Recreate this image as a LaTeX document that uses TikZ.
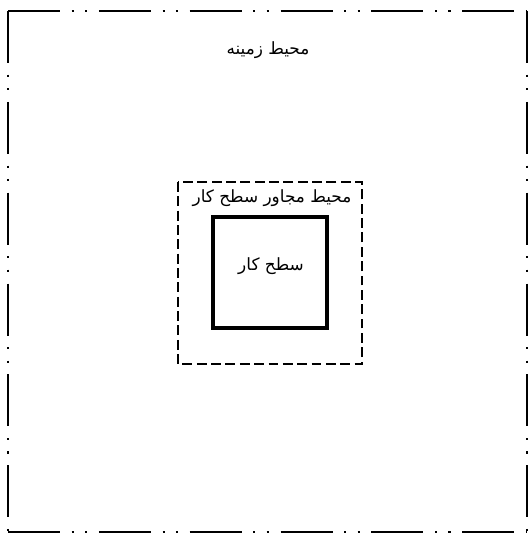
\documentclass[tikz,border=0pt]{standalone}
\usepackage{fontspec}
\TeXXeTstate=1
\newfontfamily\arabicfont[Script=Arabic]{DejaVu Sans}
\tikzset{
  frameline/.style={line width=1.8pt,dash pattern=on 37pt off 8.3pt on 1.5pt off 8pt on 1.5pt off 8.3pt},
  zoneline/.style={line width=1.5pt,dash pattern=on 7pt off 3.2pt},
  workline/.style={line width=2.8pt},
  label/.style={font=\arabicfont\fontsize{12}{14}\selectfont,inner sep=0pt}
}
\begin{document}
\begin{tikzpicture}[x=0.025cm,y=-0.025cm]
        \useasboundingbox (0,0) rectangle (529,533);
        \coordinate (tl) at (8,11);
        \coordinate (tr) at (527,11);
        \coordinate (bl) at (8,532);
        \coordinate (br) at (527,532);
        % outer frame
        \draw[frameline] (tl) -- (tr);
        \draw[frameline] (tl) -- (bl);
        \draw[frameline] (bl) -- (br);
        \draw[frameline] (tr) -- (br);
        % dashed zone and work surface
        \draw[zoneline] (178,182) rectangle (362,364);
        \draw[workline] (213,217) rectangle (327,328);
        \node[label] at (268,50) (ground) {\beginR محیط زمینه\endR};
        \node[label] at (272,198) (zone) {\beginR محیط مجاور سطح کار\endR};
        \node[label] at (271,266) (work) {\beginR سطح کار\endR};
    \end{tikzpicture}
\end{document}
